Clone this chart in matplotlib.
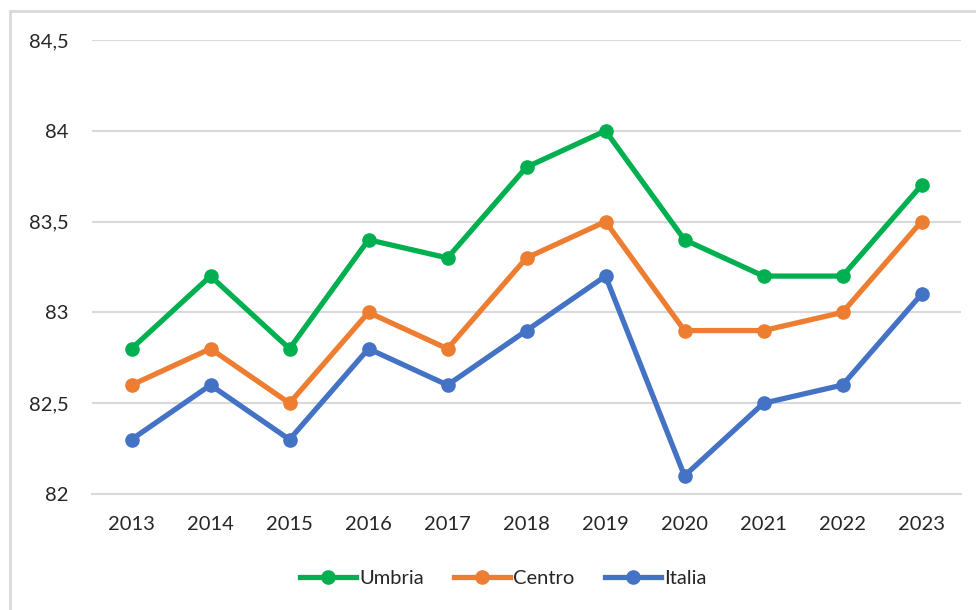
import matplotlib.pyplot as plt
from matplotlib.patches import Rectangle
from matplotlib.ticker import FuncFormatter

plt.rcParams['font.family'] = ['Lato', 'DejaVu Sans']

anni = ['2013', '2014', '2015', '2016', '2017', '2018', '2019', '2020', '2021', '2022', '2023']
umbria = [82.8, 83.2, 82.8, 83.4, 83.3, 83.8, 84.0, 83.4, 83.2, 83.2, 83.7]
centro = [82.6, 82.8, 82.5, 83.0, 82.8, 83.3, 83.5, 82.9, 82.9, 83.0, 83.5]
italia = [82.3, 82.6, 82.3, 82.8, 82.6, 82.9, 83.2, 82.1, 82.5, 82.6, 83.1]

serie = [('Umbria', umbria, '#00B050'),
         ('Centro', centro, '#ED7D31'),
         ('Italia', italia, '#4472C4')]

fig = plt.figure(figsize=(9.76, 6.10), dpi=100)
ax = fig.add_axes([92 / 976, 1 - 494 / 610, (961 - 92) / 976, (494 - 40) / 610])

x = list(range(len(anni)))
for nome, valori, colore in serie:
    ax.plot(x, valori, color=colore, lw=3.8, marker='o', ms=9.5,
            label=nome, clip_on=False, zorder=3)

ax.set_xlim(-0.5, len(anni) - 0.5)
ax.set_ylim(82, 84.5)
ax.set_yticks([82, 82.5, 83, 83.5, 84, 84.5])
ax.yaxis.set_major_formatter(FuncFormatter(lambda v, p: ('%g' % v).replace('.', ',')))
ax.set_xticks(x)
ax.set_xticklabels(anni)
ax.grid(axis='y', color='#D9D9D9', lw=1.5)
ax.set_axisbelow(True)
for s in ['top', 'right', 'left']:
    ax.spines[s].set_visible(False)
ax.spines['bottom'].set_color('#D9D9D9')
ax.spines['bottom'].set_linewidth(1.5)
ax.tick_params(axis='both', length=0, labelsize=14.5, colors='#262626')
ax.tick_params(axis='y', pad=17)
ax.tick_params(axis='x', pad=16)

fig.legend(loc='center', bbox_to_anchor=(503 / 976, 1 - 578 / 610), ncol=3,
           frameon=False, fontsize=14.5, handlelength=2.8, handletextpad=0.15,
           columnspacing=1.5, labelcolor='#262626')

fig.patches.append(Rectangle((9.5 / 976, -0.1), 1.1, 1 - 10.5 / 610 + 0.1,
                             transform=fig.transFigure, fill=False,
                             edgecolor='#D9D9D9', lw=2))

fig.savefig('out.png', dpi=100)
